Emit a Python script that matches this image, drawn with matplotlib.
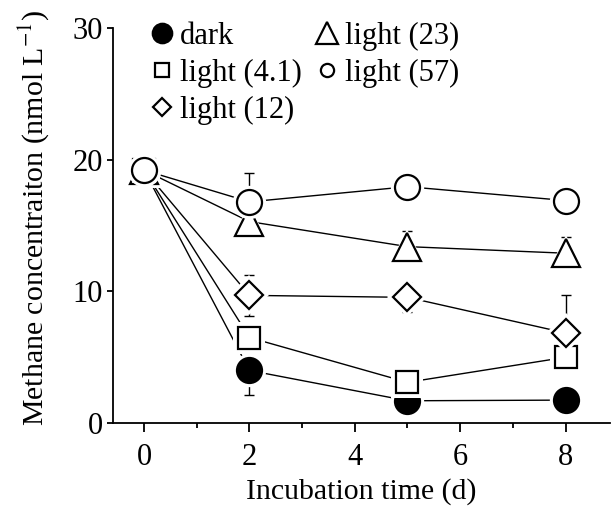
import matplotlib
matplotlib.use("Agg")
import matplotlib.pyplot as plt
from matplotlib.lines import Line2D

plt.rcParams['font.family'] = ['Liberation Serif', 'DejaVu Serif']
plt.rcParams['mathtext.fontset'] = 'stix'

days = [0, 2, 5, 8]
dark = [19.2, 4.0, 1.7, 1.75]
dark_err = [0.3, 1.9, 0.2, 0.2]
light_4_1 = [19.2, 6.5, 3.1, 5.0]
light_4_1_err = [0.3, 0.3, 0.4, 1.0]
light_12 = [19.2, 9.7, 9.55, 6.85]
light_12_err = [0.3, 1.55, 1.1, 2.9]
light_23 = [19.2, 15.3, 13.4, 12.9]
light_23_err = [0.3, 0.8, 1.2, 1.2]
light_57 = [19.2, 16.8, 17.95, 16.9]
light_57_err = [0.3, 2.2, 0.6, 0.3]

labels = ["dark", "light (4.1)", "light (12)", "light (23)", "light (57)"]
series = [dark, light_4_1, light_12, light_23, light_57]
errors = [dark_err, light_4_1_err, light_12_err, light_23_err, light_57_err]
markers = ['o', 's', 'D', '^', 'o']
sizes = [18, 16.5, 14, 20, 18]
leg_sizes = [14, 10.5, 9.5, 15.5, 9.5]
faces = ['black', 'white', 'white', 'white', 'white']

fig = plt.figure(figsize=(6.11, 5.08), dpi=100)
ax = fig.add_axes([0.185, 0.167, 0.813, 0.778])

for i, (y, e) in enumerate(zip(series, errors)):
    ax.errorbar(days, y, yerr=e, fmt='none', ecolor='black', elinewidth=1.0,
                capsize=3.6, capthick=1.0, zorder=1)
    ax.plot(days, y, color='black', lw=1.0, zorder=1)

for k, i in enumerate([0, 1, 2, 3, 4]):
    y = series[i]
    ax.plot(days, y, linestyle='none', marker=markers[i], ms=sizes[i] + 6,
            mfc='white', mec='white', mew=0, zorder=2 + 2 * k)
    ax.plot(days, y, linestyle='none', marker=markers[i], ms=sizes[i],
            mfc=faces[i], mec='black', mew=1.6, zorder=3 + 2 * k)

ax.set_xlim(-0.59, 8.84)
ax.set_ylim(0, 30)
ax.set_xticks([0, 2, 4, 6, 8])
ax.set_xticks([1, 3, 5, 7], minor=True)
ax.set_yticks([0, 10, 20, 30])
ax.spines['top'].set_visible(False)
ax.spines['right'].set_visible(False)
for s in ['left', 'bottom']:
    ax.spines[s].set_linewidth(1.3)
ax.tick_params(axis='x', which='major', direction='out', length=6.5, width=1.3,
               labelsize=22, pad=8)
ax.tick_params(axis='x', which='minor', direction='out', length=3.6, width=1.3)
ax.tick_params(axis='y', which='major', direction='out', length=4, width=1.3,
               labelsize=22, pad=3.5)

ax.set_xlabel("Incubation time (d)", fontsize=21.5, labelpad=4)
ax.set_ylabel(r"Methane concentraiton (nmol L$^{-1}$)", fontsize=21.5)
ax.yaxis.set_label_coords(-0.125, 0.52)

handles = [Line2D([], [], linestyle='none', marker=markers[i], ms=leg_sizes[i],
                  mfc=faces[i], mec='black', mew=1.6) for i in range(5)]
ax.legend(handles, labels, ncol=2, loc='upper left',
          bbox_to_anchor=(0.074, 1.015), frameon=False, fontsize=22,
          handlelength=0.8, handletextpad=0.2, labelspacing=0.26,
          columnspacing=0.4, borderpad=0, borderaxespad=0)

fig.savefig("out.png", dpi=100)
